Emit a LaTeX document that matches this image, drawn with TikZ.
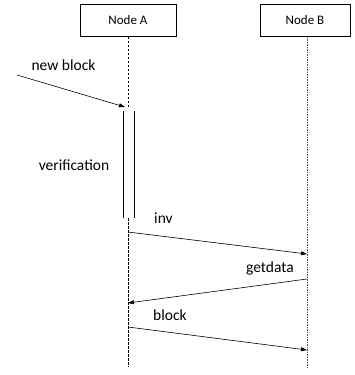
\documentclass[tikz,border=0pt]{standalone}
\usepackage{fontspec}
\setmainfont{Carlito}
\usetikzlibrary{arrows.meta}
\begin{document}
\begin{tikzpicture}[x=1pt,y=-1pt,
  actor/.style={draw,line width=0.6pt,minimum width=96pt,minimum height=32pt,inner sep=0pt,font=\fontsize{13}{15}\selectfont},
  lifeA/.style={line width=0.6pt,dash pattern=on 2.5pt off 1.5pt},
  lifeB/.style={line width=0.6pt,draw=black!70,dash pattern=on 1.5pt off 1pt},
  msg/.style={line width=0.6pt,-{Triangle[length=6pt,width=4pt]}},
  lbl/.style={font=\fontsize{15.5}{18}\selectfont,inner sep=0pt}]
\useasboundingbox (0,0) rectangle (354,375);
\node[actor] (A) at (128,20.5) {Node A};
\node[actor,minimum width=90pt] (B) at (305,20.5) {Node B};
% lifeline coordinates
\coordinate (a0) at (128,108);
\coordinate (a1) at (128,218);
\coordinate (aend) at (128,367);
\coordinate (bend) at (307,367);
\coordinate (Bt) at (307,36.5);
\draw[lifeA] (A.south) -- (a0);
\draw[lifeA] (a1) -- (aend);
\draw[lifeB] (Bt) -- (bend);
% activation
\coordinate (act1t) at (123,111);
\coordinate (act1b) at (123,218);
\coordinate (act2t) at (134,111);
\coordinate (act2b) at (134,218);
\draw[line width=0.6pt] (act1t) -- (act1b);
\draw[line width=0.6pt] (act2t) -- (act2b);
% new block
\coordinate (src) at (17,75);
\coordinate (nbend) at (125,107);
\draw[msg] (src) -- (nbend);
\node[lbl] (nb) at (63.5,65) {new block};
\node[lbl] (ver) at (74,165) {verification};
% messages
\coordinate (m1s) at (128,232);
\coordinate (m1e) at (307,254);
\draw[msg] (m1s) -- (m1e);
\node[lbl,anchor=west] (inv) at (154,218) {inv};
\coordinate (m2s) at (307,279);
\coordinate (m2e) at (128,303);
\draw[msg] (m2s) -- (m2e);
\node[lbl,anchor=east] (gd) at (294,268) {getdata};
\coordinate (m3s) at (128,327);
\coordinate (m3e) at (307,350);
\draw[msg] (m3s) -- (m3e);
\node[lbl,anchor=west] (bl) at (153,315) {block};
\end{tikzpicture}
\end{document}
